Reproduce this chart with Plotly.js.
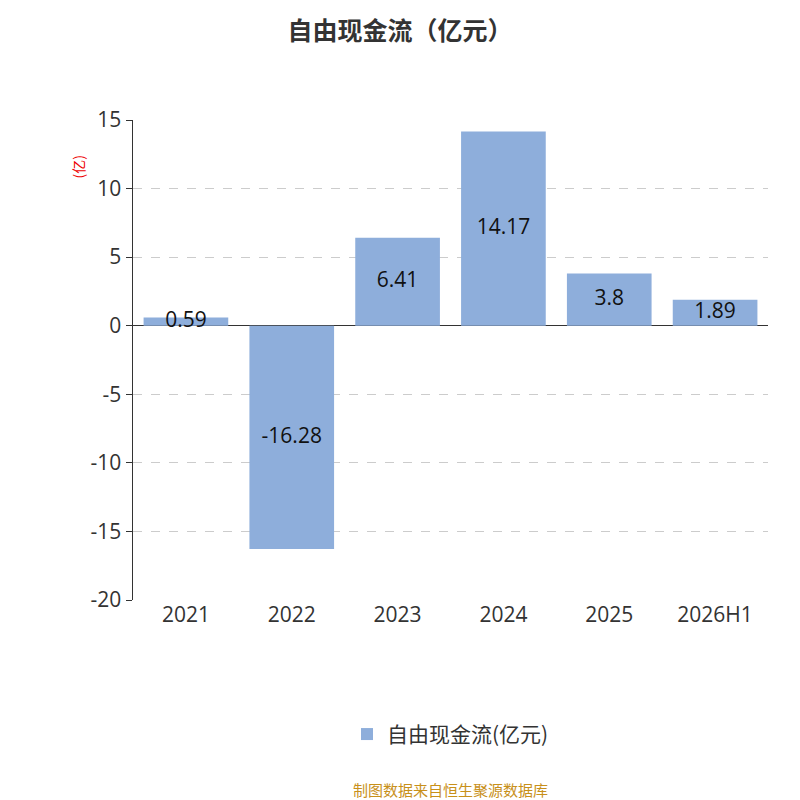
<!DOCTYPE html>
<html>
<head>
<meta charset="utf-8">
<script src="https://cdn.plot.ly/plotly-3.0.1.min.js"></script>
<style>body{margin:0;background:#fff}</style>
</head>
<body>
<div id="chart" style="width:800px;height:800px"></div>
<script>
// 自由现金流 data
const categories = ["2021", "2022", "2023", "2024", "2025", "2026H1"];
const values = [0.59, -16.28, 6.41, 14.17, 3.8, 1.89];
const seriesName = "自由现金流(亿元)";
const yTicks = [-20, -15, -10, -5, 0, 5, 10, 15];

const FONT = "Open Sans, Noto Sans CJK SC, sans-serif";
const BAR = "#8eaedb";

Plotly.newPlot("chart", [{
  type: "bar",
  x: categories,
  y: values,
  name: seriesName,
  marker: { color: BAR },
  hoverinfo: "skip",
}, {
  // value labels centred in each bar
  type: "scatter",
  mode: "text",
  x: categories,
  y: values.map(v => v / 2),
  text: values.map(String),
  textfont: { size: 21, color: "#111", family: FONT },
  showlegend: false,
  cliponaxis: false,
  hoverinfo: "skip",
}], {
  width: 800, height: 800,
  paper_bgcolor: "#fff", plot_bgcolor: "#fff",
  font: { family: FONT, color: "#333" },
  margin: { l: 133, r: 32, t: 120, b: 200 },
  bargap: 0.2,
  title: { text: "<b>自由现金流（亿元）</b>", x: 0.5, y: 0.972, font: { size: 25, color: "#333", family: "Noto Sans CJK SC" } },
  xaxis: {
    type: "category",
    tickfont: { size: 21, color: "#333" },
    showgrid: false, showline: false, ticks: "", ticklen: 0,
  },
  yaxis: {
    range: [-20, 15],
    tickvals: yTicks,
    ticktext: yTicks.map(String),
    tickfont: { size: 21, color: "#333" },
    showgrid: true, gridcolor: "#ccc", griddash: "dash",
    zeroline: true, zerolinecolor: "#333", zerolinewidth: 1.5,
    showline: true, linecolor: "#333", linewidth: 1.5,
    ticks: "outside", ticklen: 6, tickcolor: "#333",
  },
  showlegend: true,
  legend: {
    orientation: "h", x: 0.5, xanchor: "center", y: -0.28, yanchor: "middle",
    font: { size: 21, color: "#333", family: "Noto Sans CJK SC" },
  },
  annotations: [
    { text: "(亿)", xref: "paper", yref: "paper", x: -0.105, y: 0.93, showarrow: false,
      textangle: -90, font: { size: 14, color: "#e00", family: "Noto Sans CJK SC" } },
    { text: "制图数据来自恒生聚源数据库", xref: "paper", yref: "paper", x: 0.5, y: -0.395,
      yanchor: "middle", showarrow: false, font: { size: 15, color: "#c8901a", family: "Noto Sans CJK SC" } },
  ],
}, { displayModeBar: false, staticPlot: true });
</script>
</body>
</html>
